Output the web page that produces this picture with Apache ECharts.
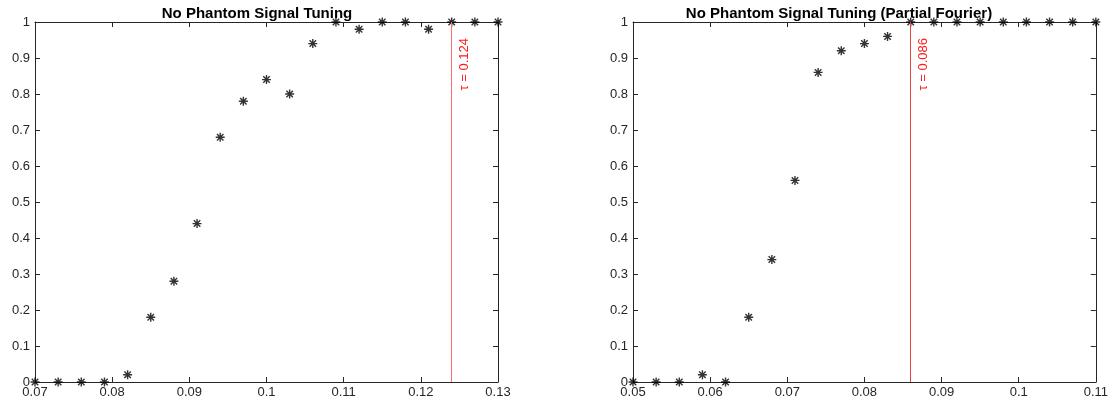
<!DOCTYPE html>
<html>
<head>
<meta charset="utf-8">
<script src="https://cdn.jsdelivr.net/npm/echarts@6/dist/echarts.min.js"></script>
<style>
    html, body { margin: 0; padding: 0; background: #fff; }
    #chart { width: 1111px; height: 410px; }
</style>
</head>
<body>
<div id="chart"></div>
<script>
// 数据
let leftX = [0.07, 0.073, 0.076, 0.079, 0.082, 0.085, 0.088, 0.091, 0.094, 0.097, 0.1,
             0.103, 0.106, 0.109, 0.112, 0.115, 0.118, 0.121, 0.124, 0.127, 0.13];
let leftY = [0, 0, 0, 0, 0.02, 0.18, 0.28, 0.44, 0.68, 0.78, 0.84,
             0.80, 0.94, 1, 0.98, 1, 1, 0.98, 1, 1, 1];
let rightX = [0.05, 0.053, 0.056, 0.059, 0.062, 0.065, 0.068, 0.071, 0.074, 0.077, 0.08,
              0.083, 0.086, 0.089, 0.092, 0.095, 0.098, 0.101, 0.104, 0.107, 0.11];
let rightY = [0, 0, 0, 0.02, 0, 0.18, 0.34, 0.56, 0.86, 0.92, 0.94,
              0.96, 1, 1, 1, 1, 1, 1, 1, 1, 1];
let leftTau = 0.124,
    rightTau = 0.086;
let titles = ['No Phantom Signal Tuning', 'No Phantom Signal Tuning (Partial Fourier)'];
let xRanges = [[0.07, 0.13], [0.05, 0.11]];

let axisColor = '#262626';
let fontName = 'Liberation Sans, Arial, sans-serif';
let asterisk = 'path://M0,-1L0,1M-1,0L1,0M-0.72,-0.72L0.72,0.72M-0.72,0.72L0.72,-0.72';

let zip = function (xs, ys) {
    return xs.map(function (x, i) { return [x, ys[i]]; });
};

let makeX = function (idx, range, pos) {
    return {
        type: 'value', gridIndex: idx, position: pos,
        min: range[0], max: range[1], interval: 0.01,
        axisLine: { show: true, onZero: false, lineStyle: { color: axisColor, width: 1 } },
        axisTick: { show: true, inside: true, length: 5, lineStyle: { color: axisColor } },
        axisLabel: {
            show: pos === 'bottom', color: axisColor, fontSize: 13, fontFamily: fontName, margin: 4,
            formatter: function (v) { return +v.toFixed(2) + ''; }
        },
        splitLine: { show: false }
    };
};

let makeY = function (idx, pos) {
    return {
        type: 'value', gridIndex: idx, position: pos,
        min: 0, max: 1, interval: 0.1,
        axisLine: { show: true, onZero: false, lineStyle: { color: axisColor, width: 1 } },
        axisTick: { show: true, inside: true, length: 5, lineStyle: { color: axisColor } },
        axisLabel: {
            show: pos === 'left', color: axisColor, fontSize: 13, fontFamily: fontName, margin: 5,
            formatter: function (v) { return +v.toFixed(1) + ''; }
        },
        splitLine: { show: false }
    };
};

let makeSeries = function (idx, data, tau, lineColor) {
    return {
        type: 'scatter', xAxisIndex: idx * 2, yAxisIndex: idx * 2,
        data: data, clip: false,
        symbol: asterisk, symbolSize: 9,
        itemStyle: { color: 'none', borderColor: '#000', borderWidth: 1.4 },
        silent: true,
        markLine: {
            silent: true, symbol: 'none', animation: false, precision: 4,
            lineStyle: { color: lineColor, width: 1, type: 'solid', opacity: 1 },
            label: {
                show: true, position: 'insideEndBottom', distance: [16, 6],
                color: '#ff1a1a', fontSize: 13, fontFamily: fontName,
                formatter: 'τ = ' + tau
            },
            data: [{ xAxis: tau }]
        }
    };
};

let chart = echarts.init(document.getElementById('chart'));
chart.setOption({
    animation: false,
    backgroundColor: '#fff',
    title: [
        { text: titles[0], left: 252, top: 1, textAlign: 'center',
          textStyle: { fontSize: 15, fontWeight: 'bold', color: '#000', fontFamily: fontName } },
        { text: titles[1], left: 834, top: 1, textAlign: 'center',
          textStyle: { fontSize: 15, fontWeight: 'bold', color: '#000', fontFamily: fontName } }
    ],
    grid: [
        { left: 35, right: 613, top: 22, bottom: 28 },
        { left: 633, right: 14, top: 22, bottom: 28 }
    ],
    xAxis: [
        makeX(0, xRanges[0], 'bottom'), makeX(0, xRanges[0], 'top'),
        makeX(1, xRanges[1], 'bottom'), makeX(1, xRanges[1], 'top')
    ],
    yAxis: [
        makeY(0, 'left'), makeY(0, 'right'),
        makeY(1, 'left'), makeY(1, 'right')
    ],
    series: [
        makeSeries(0, zip(leftX, leftY), leftTau, '#ff6e6e'),
        makeSeries(1, zip(rightX, rightY), rightTau, '#e8413f')
    ]
});
</script>
</body>
</html>
